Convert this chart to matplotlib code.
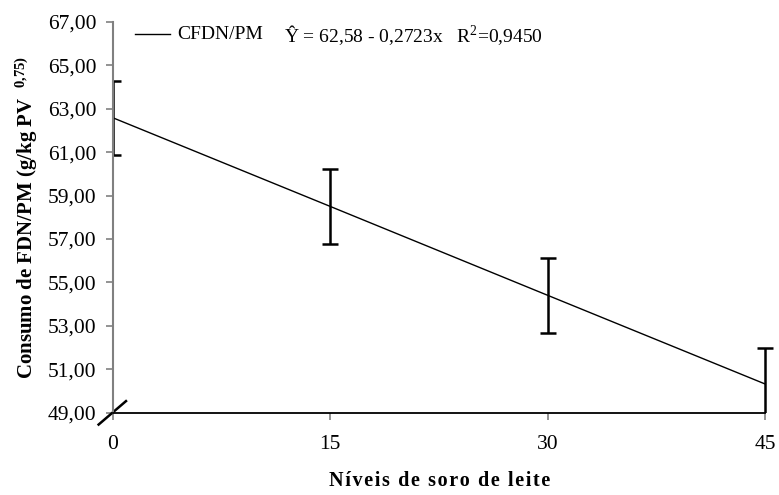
import numpy as np
import matplotlib
matplotlib.use('Agg')
import matplotlib.pyplot as plt
from matplotlib.transforms import Bbox, TransformedBbox

plt.rcParams['font.family'] = ['Liberation Serif', 'DejaVu Serif']
plt.rcParams['mathtext.default'] = 'regular'

# niveis de soro de leite e consumo estimado (g/kg PV^0,75)
niveis = [0, 15, 30, 45]
consumo = [62.58, 58.50, 54.41, 50.33]
erro = [1.70, 1.74, 1.73, 1.65]
yticks = [49, 51, 53, 55, 57, 59, 61, 63, 65, 67]

fig = plt.figure(figsize=(7.79, 4.95), dpi=100, facecolor='white')
ax = fig.add_axes([0.145, 0.166, 0.837, 0.79])

ax.plot(niveis, consumo, color='black', linewidth=1.0)
eb = ax.errorbar(niveis, consumo, yerr=erro, fmt='none', ecolor='black',
                 elinewidth=1.8, capsize=5.5, capthick=1.8)
# deixa a ultima barra passar um pouco da borda direita
clip = TransformedBbox(Bbox([[0, 0], [1.02, 1.1]]), ax.transAxes)
for a in eb.get_children():
    a.set_clip_box(clip)

ax.set_xlim(0, 45)
ax.set_ylim(49, 67)
ax.set_xticks(niveis)
ax.set_yticks(yticks)
ax.set_yticklabels([('%.2f' % v).replace('.', ',') for v in yticks])

for s in ['top', 'right']:
    ax.spines[s].set_visible(False)
ax.spines['left'].set_color('#808080')
ax.spines['left'].set_linewidth(1.5)
ax.spines['bottom'].set_color('black')
ax.spines['bottom'].set_linewidth(1.3)
ax.tick_params(axis='y', colors='#808080', length=5, width=1.2, labelcolor='black',
               labelsize=15.5, pad=7)
ax.tick_params(axis='x', colors='#808080', length=5, width=1.2, labelcolor='black',
               labelsize=15.5, pad=11)

# quebra do eixo na origem
ax.plot([-0.022, 0.02], [-0.03, 0.03], transform=ax.transAxes, color='black',
        linewidth=1.8, clip_on=False)

# legenda e equacao
ax.plot([0.034, 0.088], [0.97, 0.97], transform=ax.transAxes, color='black',
        linewidth=1.0, clip_on=False)
ax.text(0.098, 0.967, 'CFDN/PM', transform=ax.transAxes, fontsize=14,
        va='center', ha='left')
ax.text(0.263, 0.967, 'Ŷ = 62,58 - 0,2723x   R$^2$=0,9450', transform=ax.transAxes,
        fontsize=14, va='center', ha='left')

ax.set_ylabel('Consumo de FDN/PM (g/kg PV  $^{0{,}75)}$', fontsize=15,
              fontweight='bold')
ax.yaxis.set_label_coords(-0.112, 0.5)
fig.text(0.564, 0.028, '\u200a'.join('Níveis de soro de leite'),
         fontsize=14.5, fontweight='bold', ha='center', va='center')

fig.savefig('out.png', dpi=100)
